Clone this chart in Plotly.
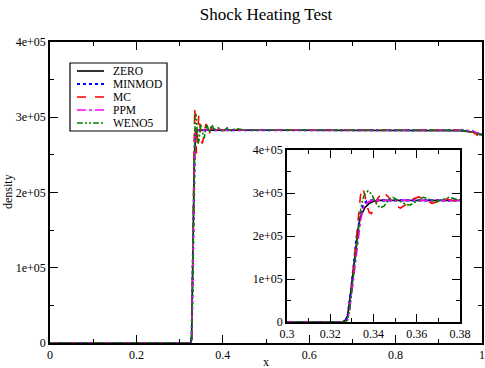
import plotly.graph_objects as go

# density in units of 1e5
X_ZERO = [0.0, 0.1, 0.2, 0.3, 0.3255, 0.327, 0.328, 0.329, 0.330, 0.331, 0.332, 0.333, 0.334,
          0.336, 0.338, 0.340, 0.343, 0.36, 0.40, 0.6, 0.8, 0.95, 0.98, 1.0]
Y_ZERO = [0, 0, 0, 0, 0, 0.04, 0.15, 0.5, 0.95, 1.4, 1.85, 2.2, 2.45,
          2.66, 2.76, 2.81, 2.83, 2.83, 2.83, 2.83, 2.83, 2.82, 2.8, 2.77]

X_MINMOD = [0.0, 0.1, 0.2, 0.3, 0.3265, 0.328, 0.330, 0.332, 0.334, 0.3355, 0.337, 0.339,
            0.345, 0.40, 0.6, 0.8, 0.95, 0.98, 1.0]
Y_MINMOD = [0, 0, 0, 0, 0, 0.1, 0.9, 1.9, 2.5, 2.75, 2.81, 2.83,
            2.83, 2.83, 2.83, 2.83, 2.83, 2.81, 2.76]

X_MC = [0.0, 0.1, 0.2, 0.3, 0.327, 0.328, 0.329, 0.330, 0.331, 0.332, 0.333, 0.334, 0.335,
        0.336, 0.337, 0.338, 0.339, 0.340, 0.342, 0.3445, 0.347, 0.350, 0.3525, 0.355, 0.358,
        0.361, 0.364, 0.367, 0.370, 0.373, 0.376, 0.38, 0.39, 0.40, 0.42, 0.45, 0.6, 0.8,
        0.95, 0.98, 1.0]
Y_MC = [0, 0, 0, 0, 0, 0.05, 0.35, 0.85, 1.35, 1.9, 2.5, 2.95, 3.12,
        2.95, 2.7, 2.55, 2.52, 2.62, 2.88, 3.03, 2.9, 2.7, 2.65, 2.73, 2.86,
        2.91, 2.84, 2.76, 2.8, 2.87, 2.83, 2.81, 2.85, 2.82, 2.84, 2.83, 2.83, 2.83,
        2.83, 2.8, 2.72]

X_PPM = [0.0, 0.1, 0.2, 0.3, 0.327, 0.328, 0.329, 0.330, 0.331, 0.332, 0.333, 0.334, 0.335,
         0.336, 0.338, 0.340, 0.36, 0.40, 0.6, 0.8, 0.95, 0.98, 1.0]
Y_PPM = [0, 0, 0, 0, 0, 0.05, 0.3, 0.7, 1.15, 1.6, 2.0, 2.35, 2.6,
         2.73, 2.8, 2.83, 2.83, 2.83, 2.83, 2.83, 2.83, 2.81, 2.77]

X_WENO5 = [0.0, 0.1, 0.2, 0.3, 0.3265, 0.328, 0.329, 0.330, 0.331, 0.332, 0.333, 0.334, 0.335,
           0.336, 0.3375, 0.339, 0.341, 0.343, 0.345, 0.347, 0.349, 0.352, 0.355, 0.357, 0.360,
           0.363, 0.366, 0.369, 0.372, 0.375, 0.378, 0.38, 0.39, 0.40, 0.41, 0.42, 0.43, 0.45,
           0.6, 0.8, 0.95, 0.98, 1.0]
Y_WENO5 = [0, 0, 0, 0, 0, 0.05, 0.3, 0.75, 1.25, 1.75, 2.2, 2.6, 2.85,
           2.98, 3.05, 2.98, 2.78, 2.65, 2.7, 2.85, 2.9, 2.82, 2.73, 2.72, 2.82,
           2.9, 2.85, 2.8, 2.85, 2.9, 2.86, 2.84, 2.86, 2.81, 2.86, 2.82, 2.85, 2.83,
           2.83, 2.83, 2.83, 2.8, 2.76]

Y_TICKS = [0, 1e5, 2e5, 3e5, 4e5]
Y_TICKTEXT = ["0", "1e+05", "2e+05", "3e+05", "4e+05"]
X_TICKS = [0, 0.2, 0.4, 0.6, 0.8, 1]
X_TICKTEXT = ["0", "0.2", "0.4", "0.6", "0.8", "1"]
XI_TICKS = [0.3, 0.32, 0.34, 0.36, 0.38]
XI_TICKTEXT = ["0.3", "0.32", "0.34", "0.36", "0.38"]

series = [
    ("ZERO", X_ZERO, Y_ZERO, "black", "solid", 1.6),
    ("MINMOD", X_MINMOD, Y_MINMOD, "#0000ff", "dot", 2.2),
    ("MC", X_MC, Y_MC, "#ff0000", "dash", 1.6),
    ("PPM", X_PPM, Y_PPM, "#ff00ff", "dashdot", 1.6),
    ("WENO5", X_WENO5, Y_WENO5, "#008000", "6px,2px,2px,2px,2px,2px", 1.6),
]

FONT = "Liberation Serif"
W, H = 485, 368
L, R, T, B = 50, 3, 42, 25
PW, PH = W - L - R, H - T - B


def px(x):  # pixel -> paper x
    return (x - L) / PW


def py(y):  # pixel -> paper y
    return (H - B - y) / PH


fig = go.Figure()
for name, xs, ys, col, dash, w in series:
    yv = [v * 1e5 for v in ys]
    fig.add_trace(go.Scatter(x=xs, y=yv, mode="lines", name=name, showlegend=False,
                             line=dict(color=col, dash=dash, width=w)))
for name, xs, ys, col, dash, w in series:
    yv = [v * 1e5 for v in ys]
    fig.add_trace(go.Scatter(x=xs, y=yv, mode="lines", name=name, showlegend=False,
                             xaxis="x2", yaxis="y2",
                             line=dict(color=col, dash=dash, width=w)))

ax = dict(showline=True, linecolor="black", linewidth=1.5, mirror="ticks",
          ticks="inside", ticklen=8, tickcolor="black", tickwidth=1, automargin=False,
          showgrid=False, zeroline=False,
          tickfont=dict(family=FONT, size=12, color="black"),
          minor=dict(ticks="inside", ticklen=4, tickcolor="black", showgrid=False))

# hand-made legend box (xmgrace style, tight rows)
shapes = [dict(type="rect", xref="paper", yref="paper", x0=px(70), x1=px(167),
               y0=py(131), y1=py(63), line=dict(color="black", width=1.2),
               fillcolor="white", layer="above")]
annotations = []
rows = [71, 84, 97, 110, 123]
for (name, xs, ys, col, dash, w), ry in zip(series, rows):
    shapes.append(dict(type="line", xref="paper", yref="paper", x0=px(77), x1=px(104),
                       y0=py(ry), y1=py(ry), layer="above",
                       line=dict(color=col, dash=dash, width=w)))
    annotations.append(dict(text=name, xref="paper", yref="paper", x=px(111), y=py(ry),
                            xanchor="left", yanchor="middle", showarrow=False,
                            font=dict(family=FONT, size=11.5, color="black")))

annotations.append(dict(text="x", xref="paper", yref="paper", x=px(266), y=py(362),
                        xanchor="center", yanchor="middle", showarrow=False,
                        font=dict(family=FONT, size=12, color="black")))
annotations.append(dict(text="density", xref="paper", yref="paper", x=px(8), y=py(192),
                        xanchor="center", yanchor="middle", showarrow=False, textangle=-90,
                        font=dict(family=FONT, size=12, color="black")))

fig.update_layout(
    width=W, height=H,
    margin=dict(l=L, r=R, t=T, b=B),
    paper_bgcolor="white", plot_bgcolor="white",
    font=dict(family=FONT, color="black", size=12),
    title=dict(text="Shock Heating Test", x=266 / W, xanchor="center", y=1 - 14 / H,
               yanchor="middle", font=dict(family=FONT, size=17)),
    showlegend=False,
    shapes=shapes, annotations=annotations,
    xaxis=dict(ax, range=[0, 1], domain=[0, 1], tickvals=X_TICKS, ticktext=X_TICKTEXT,
               minor=dict(ax["minor"], dtick=0.1), ticklabeloverflow="allow"),
    yaxis=dict(ax, range=[0, 4e5], domain=[0, 1], tickvals=Y_TICKS, ticktext=Y_TICKTEXT,
               minor=dict(ax["minor"], dtick=5e4)),
    xaxis2=dict(ax, range=[0.3, 0.38], domain=[px(287), px(460)], anchor="y2",
                tickvals=XI_TICKS, ticktext=XI_TICKTEXT, minor=dict(ax["minor"], dtick=0.01)),
    yaxis2=dict(ax, range=[0, 4e5], domain=[py(322), py(150)], anchor="x2",
                tickvals=Y_TICKS, ticktext=Y_TICKTEXT, minor=dict(ax["minor"], dtick=5e4)),
)

# browser default body margin would shift the fixed-size figure by 8px
fig.write_html("out.html", config={"displayModeBar": False},
               post_script="document.body.style.margin='0';document.body.style.overflow='hidden';")
